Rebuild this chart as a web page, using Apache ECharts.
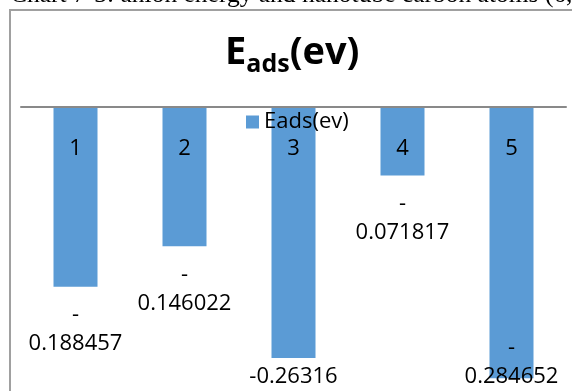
<!DOCTYPE html>
<html>
<head>
<meta charset="utf-8">
<script src="https://cdn.jsdelivr.net/npm/echarts@6/dist/echarts.min.js"></script>
<style>
html,body{margin:0;padding:0;background:#fff;}
#c{width:572px;height:391px;}
</style>
</head>
<body>
<div id="c"></div>
<script>
const categories = ['1', '2', '3', '4', '5'];
const seriesName = 'Eads(ev)';
const eadsValues = [-0.188457, -0.146022, -0.26316, -0.071817, -0.284652];
const captionText = 'Chart 7-3: anion energy and nanotube carbon atoms (6,';

// label layout tweaks (placement only, not data)
const labelLayout = [
  {},
  {},
  { offset: [0, -10] },
  {},
  { position: 'insideBottom', distance: 0, offset: [0, 13] }
];

const FONT = 'Open Sans';
const chart = echarts.init(document.getElementById('c'), null, { renderer: 'canvas' });

const seriesData = eadsValues.map((v, i) => {
  const item = { value: v };
  if (Object.keys(labelLayout[i]).length) item.label = labelLayout[i];
  return item;
});

chart.setOption({
  animation: false,
  backgroundColor: '#fff',
  title: {
    text: '{e|E}{sub|ads}{p|(ev)}',
    left: 225,
    top: 30,
    padding: 0,
    textStyle: {
      rich: {
        e: { fontFamily: FONT, fontWeight: 'bold', fontSize: 38, color: '#000', lineHeight: 44 },
        sub: { fontFamily: FONT, fontWeight: 'bold', fontSize: 25, color: '#000', padding: [22, 0, 0, 0] },
        p: { fontFamily: FONT, fontWeight: 'bold', fontSize: 38, color: '#000', lineHeight: 44 }
      }
    }
  },
  legend: {
    data: [seriesName],
    left: 246,
    top: 111,
    padding: 0,
    icon: 'rect',
    itemWidth: 13,
    itemHeight: 13,
    textStyle: { fontFamily: FONT, fontSize: 22, color: '#000' }
  },
  grid: { left: 21, right: 6, top: 107, height: 286, outerBoundsMode: 'none', containLabel: false },
  xAxis: {
    type: 'category',
    data: categories,
    position: 'top',
    z: 10,
    axisLine: { onZero: false, lineStyle: { color: '#898989', width: 2 } },
    axisTick: { show: false },
    axisLabel: { inside: true, margin: 31, fontFamily: FONT, fontSize: 22, color: '#000' },
    splitLine: { show: false }
  },
  yAxis: {
    type: 'value',
    min: -0.3,
    max: 0,
    show: false,
    splitLine: { show: false }
  },
  series: [{
    name: seriesName,
    type: 'bar',
    data: seriesData,
    barWidth: 44,
    itemStyle: { color: '#5B9BD5' },
    label: {
      show: true,
      position: 'bottom',
      distance: 14,
      fontFamily: FONT,
      fontSize: 22,
      lineHeight: 29,
      color: '#000',
      formatter: p => {
        const s = String(p.value);
        return s.length > 8 ? '-\n' + s.slice(1) : s;
      }
    }
  }],
  graphic: [
    {
      type: 'polyline',
      shape: { points: [[10, 400], [10, 10], [580, 10]] },
      style: { stroke: '#a0a0a0', lineWidth: 2, fill: null },
      z: 100
    },
    {
      type: 'text',
      left: 10,
      top: -18,
      style: { text: captionText, fontFamily: 'Liberation Serif', fontSize: 25.5, fill: '#000' },
      z: 100
    }
  ]
});
</script>
</body>
</html>
